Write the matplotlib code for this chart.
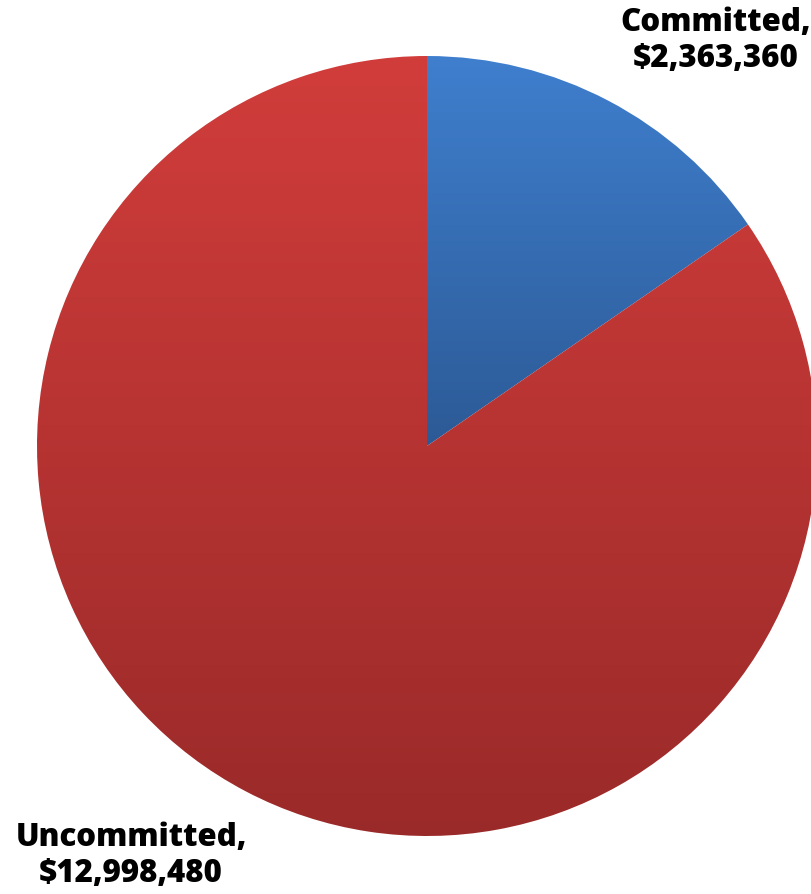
import matplotlib
matplotlib.use("Agg")
import matplotlib.pyplot as plt
import numpy as np
from matplotlib.colors import LinearSegmentedColormap

categories = ["Committed", "Uncommitted"]
values = [2363360, 12998480]
labels = ["Committed,\n$2,363,360", "Uncommitted,\n$12,998,480"]

W, H = 811, 895
fig = plt.figure(figsize=(W / 100, H / 100), dpi=100)
ax = fig.add_axes([0, 0, 1, 1])

cx, cy, r = 427, H - 447, 390
wedges, _ = ax.pie(values, startangle=90, counterclock=False, center=(cx, cy),
                   radius=r, frame=True, wedgeprops=dict(linewidth=0))
ax.set_xlim(0, W)
ax.set_ylim(0, H)
ax.set_aspect("equal")
ax.axis("off")

grads = [("#3f7fce", "#2c5a96"), ("#d13d3b", "#9a2a29")]
for w, (top, bot) in zip(wedges, grads):
    w.set_facecolor("none")
    bb = w.get_path().get_extents(w.get_patch_transform())
    cmap = LinearSegmentedColormap.from_list("g", [bot, top])
    grad = np.linspace(0, 1, 256).reshape(-1, 1)
    im = ax.imshow(grad, cmap=cmap, origin="lower", aspect="auto",
                   extent=(bb.x0, bb.x1, bb.y0, bb.y1), zorder=1)
    im.set_clip_path(w)

fp = dict(fontfamily="Open Sans", fontweight="heavy", fontsize=22.5, color="black",
          ha="center", va="center", linespacing=1.2)
ax.text(716, H - 41, labels[0], **fp)
ax.text(131, H - 856, labels[1], **fp)

fig.savefig("out.png", dpi=100)
